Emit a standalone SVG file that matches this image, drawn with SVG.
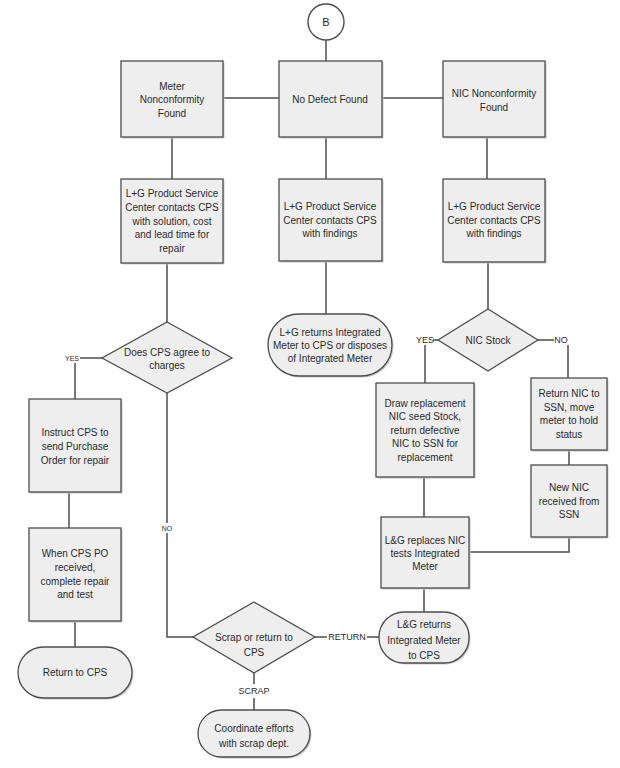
<svg xmlns="http://www.w3.org/2000/svg" width="620" height="768" viewBox="0 0 620 768">
<style>
.box{fill:#eeeeee;stroke:#4d4d4d;stroke-width:1.3}
.sh{fill:#c8c8c8}
.ln{fill:none;stroke:#4d4d4d;stroke-width:1.5}
text{font-family:"Liberation Sans",Arial,sans-serif;font-size:10px;fill:#2a2a2a;text-anchor:middle;dominant-baseline:central}
.lb{font-size:9px}
.sm{font-size:7px}
</style>
<rect width="620" height="768" fill="#fff"/>
<g id="connectors">
<path class="ln" d="M326 40V61"/>
<path class="ln" d="M223 98H279"/>
<path class="ln" d="M382 98H443"/>
<path class="ln" d="M172 137V179"/>
<path class="ln" d="M326 137V179"/>
<path class="ln" d="M487 137V179"/>
<path class="ln" d="M167 263V322"/>
<path class="ln" d="M326 261V314"/>
<path class="ln" d="M488 262V309"/>
<path class="ln" d="M102 358H80"/>
<path class="ln" d="M75 363V399"/>
<path class="ln" d="M69 492V528"/>
<path class="ln" d="M75 621V647"/>
<path class="ln" d="M167 393V523"/>
<path class="ln" d="M167 533V637H193"/>
<path class="ln" d="M438 340H433"/>
<path class="ln" d="M425 345V383"/>
<path class="ln" d="M538 340H554"/>
<path class="ln" d="M568 345V378"/>
<path class="ln" d="M569 450V465"/>
<path class="ln" d="M569 537V552H469"/>
<path class="ln" d="M424 477V517"/>
<path class="ln" d="M424 588V612"/>
<path class="ln" d="M315 637H327"/>
<path class="ln" d="M367 637H379"/>
<path class="ln" d="M254 673V684"/>
<path class="ln" d="M254 698V710"/>
<text class="sm" x="72" y="358">YES</text>
<text class="sm" x="167" y="528">NO</text>
<text class="lb" x="425" y="340">YES</text>
<text class="lb" x="561" y="340">NO</text>
<text class="lb" x="347" y="637">RETURN</text>
<text class="lb" x="254" y="691">SCRAP</text>
</g>
<g id="nB">
<circle cx="326" cy="22" r="18" fill="#fff" stroke="#4d4d4d" stroke-width="1.4"/>
<text x="326" y="22" style="font-size:11px">B</text>
</g>
<g id="nMeter">
<rect class="sh" x="122.5" y="62.5" width="102" height="76"/>
<rect class="box" x="121" y="61" width="102" height="76"/>
<text x="172" y="86">Meter</text>
<text x="172" y="99">Nonconformity</text>
<text x="172" y="113">Found</text>
</g>
<g id="nNoDefect">
<rect class="sh" x="280.5" y="62.5" width="103" height="76"/>
<rect class="box" x="279" y="61" width="103" height="76"/>
<text x="330" y="99">No Defect Found</text>
</g>
<g id="nNIC">
<rect class="sh" x="444.5" y="62.5" width="102" height="76"/>
<rect class="box" x="443" y="61" width="102" height="76"/>
<text x="494" y="93">NIC Nonconformity</text>
<text x="494" y="107">Found</text>
</g>
<g id="nContact1">
<rect class="sh" x="122.5" y="180.5" width="102" height="84"/>
<rect class="box" x="121" y="179" width="102" height="84"/>
<text x="172" y="193">L+G Product Service</text>
<text x="172" y="207">Center contacts CPS</text>
<text x="172" y="221">with solution, cost</text>
<text x="172" y="234">and lead time for</text>
<text x="172" y="248">repair</text>
</g>
<g id="nContact2">
<rect class="sh" x="280.5" y="180.5" width="103" height="82"/>
<rect class="box" x="279" y="179" width="103" height="82"/>
<text x="330" y="206">L+G Product Service</text>
<text x="330" y="220">Center contacts CPS</text>
<text x="330" y="233">with findings</text>
</g>
<g id="nContact3">
<rect class="sh" x="444.5" y="180.5" width="102" height="83"/>
<rect class="box" x="443" y="179" width="102" height="83"/>
<text x="494" y="206">L+G Product Service</text>
<text x="494" y="220">Center contacts CPS</text>
<text x="494" y="233">with findings</text>
</g>
<g id="nAgree">
<polygon class="box" points="167,322 232,358 167,393 102,358"/>
<text x="167" y="352">Does CPS agree to</text>
<text x="167" y="365">charges</text>
</g>
<g id="nReturnsNDF">
<rect class="sh" x="269.5" y="315.5" width="124" height="62" rx="31"/>
<rect class="box" x="268" y="314" width="124" height="62" rx="31"/>
<text x="330" y="332">L+G returns Integrated</text>
<text x="330" y="345">Meter to CPS or disposes</text>
<text x="330" y="358">of Integrated Meter</text>
</g>
<g id="nStock">
<polygon class="box" points="488,309 538,340 488,371 438,340"/>
<text x="488" y="340">NIC Stock</text>
</g>
<g id="nInstruct">
<rect class="sh" x="30.5" y="400.5" width="92" height="93"/>
<rect class="box" x="29" y="399" width="92" height="93"/>
<text x="75" y="432">Instruct CPS to</text>
<text x="75" y="446">send Purchase</text>
<text x="75" y="460">Order for repair</text>
</g>
<g id="nWhenPO">
<rect class="sh" x="30.5" y="529.5" width="92" height="93"/>
<rect class="box" x="29" y="528" width="92" height="93"/>
<text x="75" y="553">When CPS PO</text>
<text x="75" y="567">received,</text>
<text x="75" y="581">complete repair</text>
<text x="75" y="594">and test</text>
</g>
<g id="nReturnCPS">
<rect class="sh" x="19.5" y="648.5" width="114" height="51" rx="25.5"/>
<rect class="box" x="18" y="647" width="114" height="51" rx="25.5"/>
<text x="75" y="672">Return to CPS</text>
</g>
<g id="nDraw">
<rect class="sh" x="377.5" y="384.5" width="98" height="94"/>
<rect class="box" x="376" y="383" width="98" height="94"/>
<text x="425" y="403">Draw replacement</text>
<text x="425" y="416">NIC seed Stock,</text>
<text x="425" y="430">return defective</text>
<text x="425" y="443">NIC to SSN for</text>
<text x="425" y="457">replacement</text>
</g>
<g id="nReturnNIC">
<rect class="sh" x="532.5" y="379.5" width="76" height="72"/>
<rect class="box" x="531" y="378" width="76" height="72"/>
<text x="569" y="393">Return NIC to</text>
<text x="569" y="407">SSN, move</text>
<text x="569" y="420">meter to hold</text>
<text x="569" y="434">status</text>
</g>
<g id="nNewNIC">
<rect class="sh" x="532.5" y="466.5" width="76" height="72"/>
<rect class="box" x="531" y="465" width="76" height="72"/>
<text x="569" y="487">New NIC</text>
<text x="569" y="501">received from</text>
<text x="569" y="514">SSN</text>
</g>
<g id="nReplaces">
<rect class="sh" x="382.5" y="518.5" width="88" height="71"/>
<rect class="box" x="381" y="517" width="88" height="71"/>
<text x="425" y="540">L&amp;G replaces NIC</text>
<text x="425" y="553">tests Integrated</text>
<text x="425" y="566">Meter</text>
</g>
<g id="nLGReturns">
<rect class="sh" x="380.5" y="613.5" width="90" height="51" rx="25"/>
<rect class="box" x="379" y="612" width="90" height="51" rx="25"/>
<text x="424" y="624">L&amp;G returns</text>
<text x="424" y="640">Integrated Meter</text>
<text x="424" y="655">to CPS</text>
</g>
<g id="nScrap">
<polygon class="box" points="254,602 315,637 254,673 193,637"/>
<text x="254" y="637">Scrap or return to</text>
<text x="254" y="652">CPS</text>
</g>
<g id="nCoordinate">
<rect class="sh" x="199.5" y="711.5" width="112" height="47" rx="23.5"/>
<rect class="box" x="198" y="710" width="112" height="47" rx="23.5"/>
<text x="254" y="728">Coordinate efforts</text>
<text x="254" y="743">with scrap dept.</text>
</g>
</svg>
